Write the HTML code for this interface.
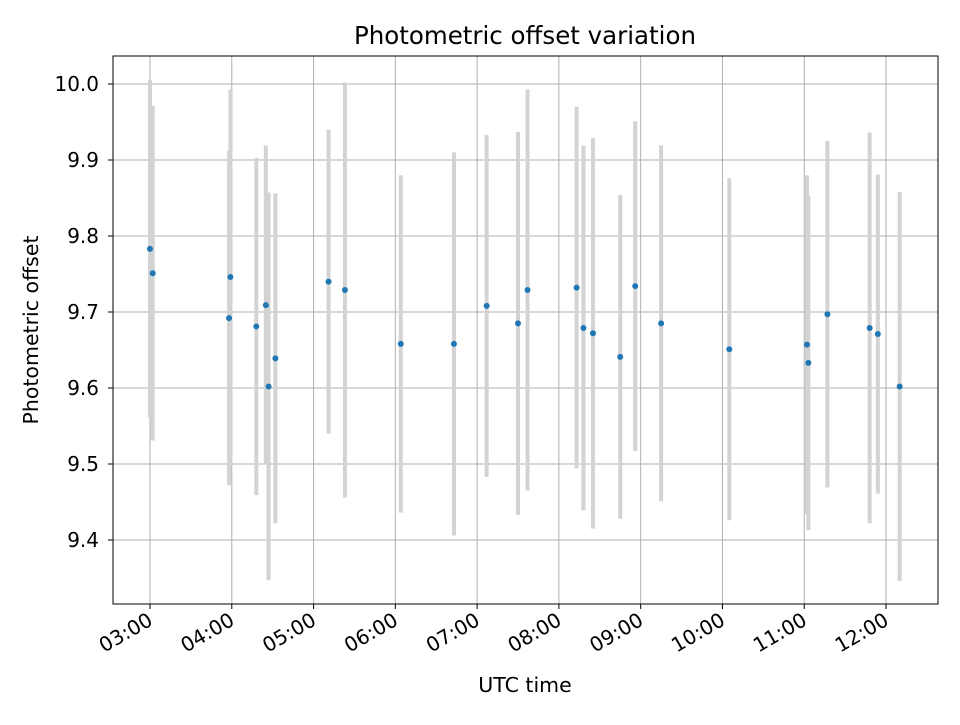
<!DOCTYPE html>
<html><head><meta charset="utf-8"><style>
body{margin:0;background:#fff;font-family:"Liberation Sans","DejaVu Sans",sans-serif;}
svg text{font-family:"DejaVu Sans","Liberation Sans",sans-serif;}
</style></head><body>
<svg id="chart" width="960" height="720" xmlns="http://www.w3.org/2000/svg">
<rect width="960" height="720" fill="#fff"/>
<text x="525" y="44" font-size="24.5" text-anchor="middle">Photometric offset variation</text>
<g id="grid"></g>
<g id="bars"></g>
<g id="pts"></g>
<rect x="113" y="56" width="825" height="548" fill="none" stroke="#000" stroke-width="1"/>
<g id="axes"></g>
<text x="525" y="692" font-size="20.5" text-anchor="middle">UTC time</text>
<text transform="translate(38,330) rotate(-90)" font-size="20.5" text-anchor="middle">Photometric offset</text>
</svg>
<script>
const times=["03:00","03:02","03:58","03:59","04:18","04:25","04:27","04:32","05:11","05:23","06:04","06:43","07:07","07:30","07:37","08:13","08:18","08:25","08:45","08:56","09:15","10:05","11:02","11:03","11:17","11:48","11:54","12:10"];
const offsets=[9.783,9.751,9.692,9.746,9.681,9.709,9.602,9.639,9.740,9.729,9.658,9.658,9.708,9.685,9.729,9.732,9.679,9.672,9.641,9.734,9.685,9.651,9.657,9.633,9.697,9.679,9.671,9.602];
const errors=[0.222,0.22,0.22,0.247,0.222,0.21,0.255,0.217,0.2,0.273,0.222,0.252,0.225,0.252,0.264,0.238,0.24,0.257,0.213,0.217,0.234,0.225,0.223,0.22,0.228,0.257,0.21,0.256];
const xTicks=["03:00","04:00","05:00","06:00","07:00","08:00","09:00","10:00","11:00","12:00"];
const yTicks=[9.4,9.5,9.6,9.7,9.8,9.9,10.0];
const NS="http://www.w3.org/2000/svg";
function hrs(t){const p=t.split(":");return +p[0]+ +p[1]/60;}
function xs(t){return 150+(hrs(t)-3)*81.78;}
function ys(v){return 84+(10-v)*760;}
function mk(tag,attrs,parent){const e=document.createElementNS(NS,tag);for(const k in attrs)e.setAttribute(k,attrs[k]);parent.appendChild(e);return e;}
const grid=document.getElementById('grid'),axes=document.getElementById('axes'),bars=document.getElementById('bars'),pts=document.getElementById('pts');
xTicks.forEach(t=>{const x=xs(t);
 const g=mk('line',{x1:x,x2:x,y1:56,y2:604,stroke:'#b0b0b0','stroke-width':1},grid);
 
 
 const tk=mk('line',{x1:x,x2:x,y1:604,y2:609,stroke:'#000'},axes);
 
 
 const tx=mk('text',{transform:`translate(${x+4},${624}) rotate(-30)`,'font-size':20,'text-anchor':'end'},axes);
 tx.textContent=t;
 
 
});
yTicks.forEach(v=>{const y=ys(v);
 const g=mk('line',{x1:113,x2:938,y1:y,y2:y,stroke:'#b0b0b0','stroke-width':1},grid);
 
 
 const tk=mk('line',{x1:108,x2:113,y1:y,y2:y,stroke:'#000'},axes);
 
 
 const tx=mk('text',{x:99,y:y+7,'font-size':20,'text-anchor':'end'},axes);
 tx.textContent=v.toFixed(1);
 
 
});
times.forEach((t,i)=>{const x=xs(t);
 const b=mk('line',{x1:x,x2:x,y1:ys(offsets[i]+errors[i]),y2:ys(offsets[i]-errors[i]),stroke:'#d3d3d3','stroke-width':4},bars);
 
 
 const c=mk('circle',{cx:x,cy:ys(offsets[i]),r:3,fill:'#1f77b4'},pts);
 
 
});
</script>
</body></html>
